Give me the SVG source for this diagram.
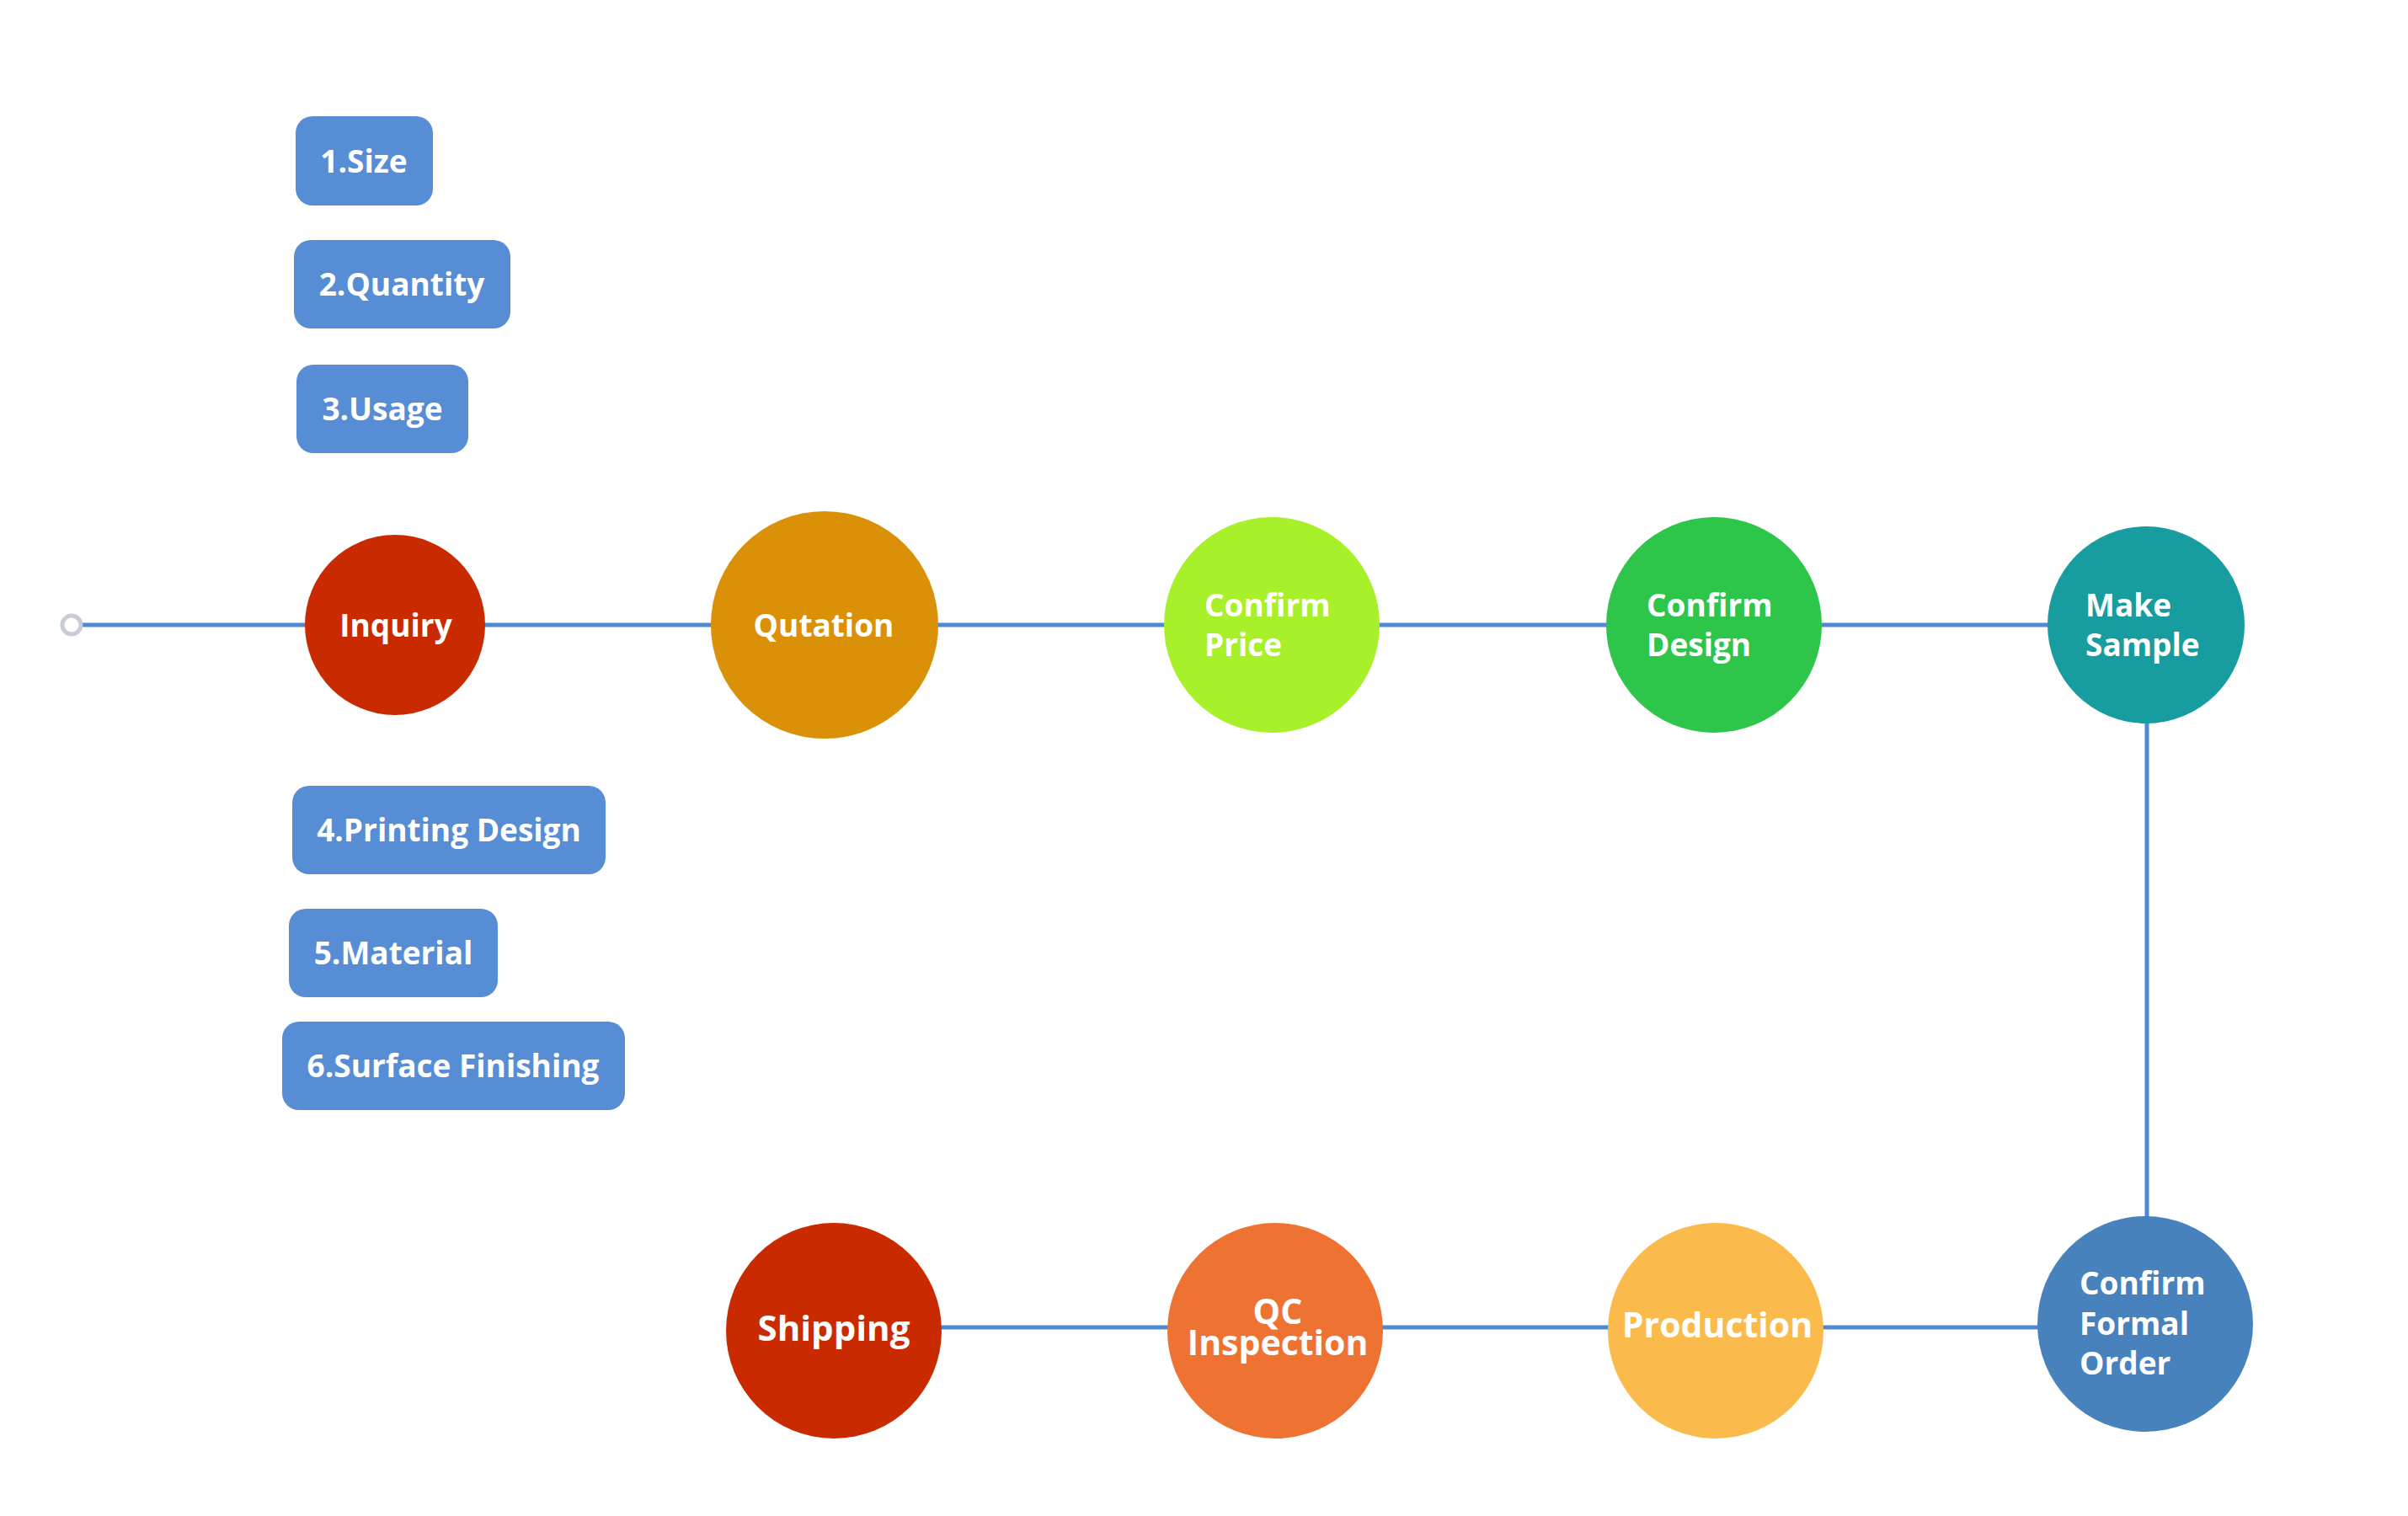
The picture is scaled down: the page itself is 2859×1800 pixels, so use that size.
<svg xmlns="http://www.w3.org/2000/svg" width="2859" height="1800" viewBox="0 0 2859 1800">
<style>
.conn{stroke:#4f89d3;stroke-width:5;fill:none}
.box{fill:#568dd4}
.bt{font-family:"Open Sans","Liberation Sans",sans-serif;font-weight:700;font-size:37px;fill:#fff;text-anchor:middle}
.ct{font-family:"Open Sans","Liberation Sans",sans-serif;font-weight:700;font-size:37px;fill:#fff}
.mid{text-anchor:middle}
.big{font-size:41px}
</style>
<rect width="2859" height="1800" fill="#fff"/>
<g id="connectors">
<line class="conn" x1="97" y1="742" x2="2549" y2="742"/>
<line class="conn" x1="2549" y1="742" x2="2549" y2="1500"/>
<line class="conn" x1="990" y1="1576" x2="2547" y2="1576"/>
<circle cx="85" cy="742" r="11" fill="#fff" stroke="#c7ccd8" stroke-width="5"/>
</g>
<g id="box1"><rect class="box" x="351" y="138" width="163" height="106" rx="20"/><text class="bt" x="432" y="205">1.Size</text></g>
<g id="box2"><rect class="box" x="349" y="285" width="257" height="105" rx="20"/><text class="bt" x="477" y="351">2.Quantity</text></g>
<g id="box3"><rect class="box" x="352" y="433" width="204" height="105" rx="20"/><text class="bt" x="454" y="499">3.Usage</text></g>
<g id="box4"><rect class="box" x="347" y="933" width="372" height="105" rx="20"/><text class="bt" x="533" y="999">4.Printing Design</text></g>
<g id="box5"><rect class="box" x="343" y="1079" width="248" height="105" rx="20"/><text class="bt" x="467" y="1145">5.Material</text></g>
<g id="box6"><rect class="box" x="335" y="1213" width="407" height="105" rx="20"/><text class="bt" x="538" y="1279">6.Surface Finishing</text></g>
<g id="inquiry"><circle cx="469" cy="742" r="107" fill="#c92a00"/><text class="ct mid" x="470" y="756">Inquiry</text></g>
<g id="qutation"><circle cx="979" cy="742" r="135" fill="#da9107"/><text class="ct mid" x="978" y="756">Qutation</text></g>
<g id="confirm-price"><circle cx="1510" cy="742" r="128" fill="#a8f02a"/><text class="ct" x="1430" y="732">Confirm</text><text class="ct" x="1430" y="779">Price</text></g>
<g id="confirm-design"><circle cx="2035" cy="742" r="128" fill="#2dc54a"/><text class="ct" x="1955" y="732">Confirm</text><text class="ct" x="1955" y="779">Design</text></g>
<g id="make-sample"><circle cx="2548" cy="742" r="117" fill="#179c9f"/><text class="ct" x="2476" y="732">Make</text><text class="ct" x="2476" y="779">Sample</text></g>
<g id="confirm-formal-order"><circle cx="2547" cy="1572" r="128" fill="#4882bd"/><text class="ct" x="2469" y="1537">Confirm</text><text class="ct" x="2469" y="1585">Formal</text><text class="ct" x="2469" y="1632">Order</text></g>
<g id="production"><circle cx="2037" cy="1580" r="128" fill="#fbbb4c"/><text class="ct mid big" x="2039" y="1588">Production</text></g>
<g id="qc-inspection"><circle cx="1514" cy="1580" r="128" fill="#ee7231"/><text class="ct mid big" x="1517" y="1572">QC</text><text class="ct mid big" x="1517" y="1609">Inspection</text></g>
<g id="shipping"><circle cx="990" cy="1580" r="128" fill="#c92a00"/><text class="ct mid" style="font-size:42px" x="990" y="1592">Shipping</text></g>
</svg>
